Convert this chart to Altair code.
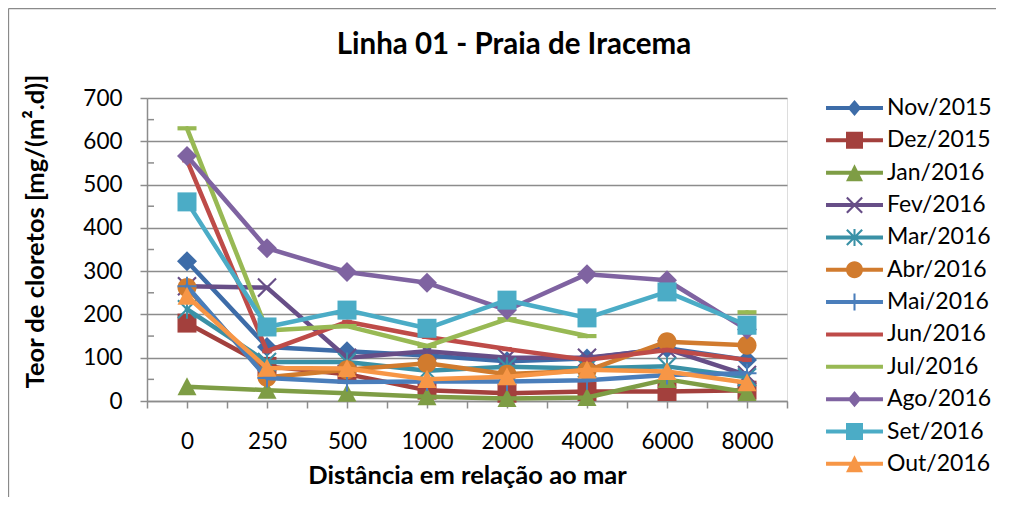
import altair as alt
import pandas as pd

# ---------------- data ----------------
months = ["Nov/2015", "Dez/2015", "Jan/2016", "Fev/2016", "Mar/2016", "Abr/2016",
          "Mai/2016", "Jun/2016", "Jul/2016", "Ago/2016", "Set/2016", "Out/2016"]
distances = ["0", "250", "500", "1000", "2000", "4000", "6000", "8000"]

nov = [323, 125, 115, 105, 92, 98, 122, 95]
dez = [180, 80, 62, 25, 18, 22, 22, 25]
jan = [33, 25, 18, 10, 6, 8, 50, 20]
fev = [265, 262, 100, 115, 100, 100, 120, 60]
mar = [212, 90, 90, 70, 79, 75, 80, 55]
abr = [262, 55, 72, 87, 62, 70, 137, 129]
mai = [265, 53, 44, 45, 45, 48, 60, 64]
jun = [556, 115, 183, 148, 120, 95, 118, 95]
jul = [630, 163, 173, 127, 189, 150, None, 205]
ago = [566, 353, 298, 273, 210, 293, 279, 165]
set_ = [460, 171, 210, 168, 233, 192, 252, 175]
out = [242, 76, 75, 50, 56, 72, 68, 42]
series_values = [nov, dez, jan, fev, mar, abr, mai, jun, jul, ago, set_, out]

colors = ["#3D6CA8", "#A3403D", "#7E9D45", "#674E87", "#3A91A6", "#D17B2E",
          "#4A7EBB", "#BE4B48", "#98B954", "#7F63A1", "#4BACC6", "#F79646"]

minor_ticks = [50, 150, 250, 350, 450, 550, 650]
major_ticks = [0, 100, 200, 300, 400, 500, 600, 700]

# ---------------- marker shapes ----------------
DIAMOND = "M0,-1.05L1.05,0L0,1.05L-1.05,0Z"
SQUARE = "M-1,-1L1,-1L1,1L-1,1Z"
TRIANGLE = "M0,-1L1,0.9L-1,0.9Z"
CIRCLE = "M-1,0A1,1,0,1,1,1,0A1,1,0,1,1,-1,0Z"


def xmark(a=0.95, d=0.08):
    return (f"M{-a+d},{-a-d}L{a+d},{a-d}L{a-d},{a+d}L{-a-d},{-a+d}Z"
            f"M{-a-d},{a-d}L{a-d},{-a-d}L{a+d},{-a+d}L{-a+d},{a+d}Z")


def vbar(a=1.0, t=0.1):
    return f"M{-t},{-a}L{t},{-a}L{t},{a}L{-t},{a}Z"


def hbar(a=1.0, t=0.1):
    return f"M{-a},{-t}L{a},{-t}L{a},{t}L{-a},{t}Z"


markers = [DIAMOND, SQUARE, TRIANGLE, xmark(), xmark() + vbar(),
           CIRCLE, vbar() + hbar(), hbar(0.5, 0.22), hbar(1.0, 0.22),
           DIAMOND, SQUARE, TRIANGLE]

LINE = "M-3.35,-0.235L3.35,-0.235L3.35,0.235L-3.35,0.235Z"
legend_paths = [
    LINE + "M0,-0.95L0.8,0L0,0.95L-0.8,0Z",
    LINE + "M-1,-1L1,-1L1,1L-1,1Z",
    LINE + "M0,-1L1,1L-1,1Z",
    LINE + xmark(0.9, 0.09),
    LINE + xmark(0.9, 0.09) + vbar(1.0, 0.12),
    LINE + CIRCLE,
    LINE + vbar(1.0, 0.12),
    LINE,
    LINE,
    LINE + "M0,-0.95L0.8,0L0,0.95L-0.8,0Z",
    LINE + "M-1,-1L1,-1L1,1L-1,1Z",
    LINE + "M0,-1L1,1L-1,1Z",
]

rows = []
for s, (name, vals) in enumerate(zip(months, series_values)):
    seg = 0
    for i, v in enumerate(vals):
        if v is None:
            seg += 1
            continue
        rows.append({"series": name, "order": s, "idx": i, "value": v, "seg": seg})
df = pd.DataFrame(rows)

GREY = "#8C8C8C"
FONT = "Lato"

x_scale = alt.Scale(domain=[-0.5, 7.5], nice=False, zero=False)
y_scale = alt.Scale(domain=[0, 700], nice=False, zero=True)

label_expr = "".join(f"datum.value == {i} ? '{d}' : " for i, d in enumerate(distances)) + "''"

x_axis = alt.Axis(
    values=[i / 2 for i in range(-1, 16)], labelExpr=label_expr,
    title="Distância em relação ao mar", grid=False,
    tickSize=7, tickColor=GREY, tickWidth=1.5, domainColor=GREY, domainWidth=1.5,
    labelFont=FONT, labelFontSize=22.5, labelColor="black", labelPadding=22,
    labelOverlap=False, labelFlush=False, labelBound=False,
    titleFont=FONT, titleFontSize=25.5, titleFontWeight="bold", titleColor="black",
    titleX=320, titleY=74, titleBaseline="middle", titleAlign="center",
)
y_axis = alt.Axis(
    values=major_ticks, grid=True, gridColor=GREY, gridWidth=1.5,
    tickSize=7, tickColor=GREY, tickWidth=1.5, domainColor=GREY, domainWidth=1.5,
    labelFont=FONT, labelFontSize=22.5, labelColor="black", labelPadding=18,
    title="Teor de cloretos [mg/(m².d)]",
    titleFont=FONT, titleFontSize=25.5, titleFontWeight="bold", titleColor="black",
    titleX=-111.5, titleY=133, titleAngle=-90, titleBaseline="middle", titleAlign="center",
)

one = pd.DataFrame({"b": [0]})
border_left = alt.Chart(one).mark_rule(color="#8A8A8A", strokeWidth=1.3).encode(
    x=alt.value(-138.5), y=alt.value(-89.5), y2=alt.value(402))
border_top = alt.Chart(one).mark_rule(color="#8A8A8A", strokeWidth=1.3).encode(
    x=alt.value(-138.5), x2=alt.value(849), y=alt.value(-89.5))

minor = alt.Chart(pd.DataFrame({"t": minor_ticks})).mark_rule(
    color=GREY, strokeWidth=1.5
).encode(
    y=alt.Y("t:Q", scale=y_scale, axis=y_axis),
    x=alt.value(0), x2=alt.value(7),
)

layers = [border_left, border_top, minor]
for s, name in enumerate(months):
    sub = df[df["series"] == name]
    line = alt.Chart(sub).mark_line(
        strokeWidth=4.5, strokeJoin="round", strokeCap="round", color=colors[s]
    ).encode(
        x=alt.X("idx:Q", scale=x_scale, axis=x_axis),
        y=alt.Y("value:Q", scale=y_scale, axis=y_axis),
        detail="seg:N",
        order="idx:Q",
    )
    pts = alt.Chart(sub).mark_point(
        filled=True, opacity=1, size=361, strokeWidth=0, shape=markers[s], fill=colors[s]
    ).encode(
        x=alt.X("idx:Q", scale=x_scale, axis=x_axis),
        y=alt.Y("value:Q", scale=y_scale, axis=y_axis),
    )
    layers += [line, pts]

leg = alt.Legend(
    title=None, orient="none", legendX=696, legendY=-1.5, padding=0,
    labelFont=FONT, labelFontSize=23, labelColor="black", labelLimit=0,
    symbolSize=289, symbolStrokeWidth=0, symbolOpacity=1,
    rowPadding=8.35, labelOffset=21,
)
legend_layer = alt.Chart(df).transform_filter("false").mark_point(
    filled=True, size=289, opacity=1
).encode(
    color=alt.Color("series:N", scale=alt.Scale(domain=months, range=colors), legend=leg),
    shape=alt.Shape("series:N", scale=alt.Scale(domain=months, range=legend_paths), legend=leg),
)
layers.append(legend_layer)

chart = alt.layer(*layers).properties(
    width=640, height=303,
    padding={"left": 139, "top": 90, "right": 211, "bottom": 96},
    autosize=alt.AutoSizeParams(type="none"),
    title=alt.TitleParams(
        text="Linha 01 - Praia de Iracema", font=FONT, fontSize=29.5, fontWeight="bold",
        color="black", anchor="middle", frame="group", dx=47, dy=76,
        baseline="alphabetic", offset=0,
    ),
).configure_view(stroke=None).configure(background="transparent")

chart.save("out.html", embed_options={"renderer": "svg", "actions": False})
